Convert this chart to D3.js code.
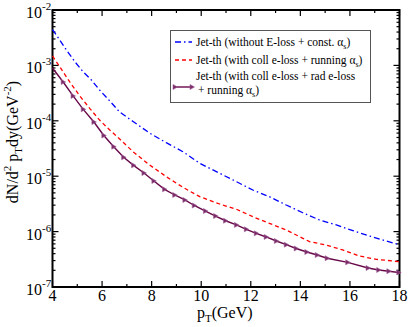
<!DOCTYPE html>
<html>
<head>
<meta charset="utf-8">
<script src="https://cdn.jsdelivr.net/npm/d3@7"></script>
<style>
body{margin:0;background:#fff;}
text{font-family:"Liberation Serif","Times New Roman",serif;fill:#000;}
</style>
</head>
<body>
<svg id="chart" width="409" height="327"></svg>
<script>
// values
let bluePt = [4.0,4.29,4.56,4.9,5.23,5.57,5.9,6.31,6.71,7.25,7.92,8.59,9.26,9.94,10.61,11.42,12.08,12.75,13.43,14.1,14.77,15.45,16.12,16.79,17.46,17.97];
let blueY = [4.44e-3,2.87e-3,1.9e-3,1.17e-3,7.7e-4,5.45e-4,3.6e-4,2.28e-4,1.44e-4,9.7e-5,6.0e-5,4.03e-5,2.77e-5,1.71e-5,1.21e-5,7.96e-6,5.64e-6,4.27e-6,3.02e-6,2.19e-6,1.62e-6,1.32e-6,1.04e-6,8.33e-7,6.77e-7,5.85e-7];
let redPt = [4.0,4.29,4.69,5.1,5.5,5.9,6.31,6.71,7.25,7.92,8.59,9.26,9.94,10.74,11.42,12.08,12.75,13.43,14.1,14.37,15.04,15.71,16.38,17.06,17.73,17.97];
let redY = [1.48e-3,9.5e-4,5.08e-4,2.81e-4,1.68e-4,1.03e-4,6.82e-5,4.69e-5,2.77e-5,1.59e-5,9.8e-6,6.3e-6,4.27e-6,3.15e-6,2.53e-6,1.86e-6,1.41e-6,1.07e-6,7.57e-7,6.58e-7,5.73e-7,4.66e-7,3.63e-7,3.16e-7,2.95e-7,2.86e-7];
let purplePt = [4.0,4.43,4.83,5.24,5.67,6.07,6.47,6.87,7.27,7.69,8.09,8.52,8.93,9.34,9.72,10.17,10.58,10.98,11.42,11.82,12.22,12.62,13.03,13.43,13.83,14.26,14.68,15.08,15.91,16.73,17.16,17.57,17.97];
let purpleY = [8.97e-4,5.01e-4,2.81e-4,1.61e-4,9.5e-5,5.43e-5,3.41e-5,2.19e-5,1.57e-5,1.14e-5,8.2e-6,5.8e-6,4.58e-6,3.72e-6,2.96e-6,2.35e-6,1.91e-6,1.57e-6,1.32e-6,1.1e-6,9.3e-7,8.0e-7,6.77e-7,5.8e-7,4.96e-7,4.28e-7,3.78e-7,3.31e-7,2.79e-7,2.2e-7,2.03e-7,1.93e-7,1.83e-7];
let xTicks = [4,6,8,10,12,14,16,18];
let yExps = [-2,-3,-4,-5,-6,-7];

const svg = d3.select('#chart');
const L=52.5, R=399.5, T=10, B=287;
const x = d3.scaleLinear().domain([4,18]).range([L,R]);
const y = d3.scaleLog().domain([1e-7,1e-2]).range([B,T]);

// minor / major ticks on all four sides
let g = svg.append('g').attr('stroke','#000');
d3.range(4,19,1).forEach(v=>{
    let len = v%2===0 ? 6 : 3;
    g.append('line').attr('x1',x(v)).attr('x2',x(v)).attr('y1',B).attr('y2',B-len).attr('stroke-width',1.2);
    g.append('line').attr('x1',x(v)).attr('x2',x(v)).attr('y1',T).attr('y2',T+len).attr('stroke-width',1.2);
});
for(let e=-7;e<=-2;e++){
    for(let m=1;m<10;m++){
        if(e===-2 && m>1) break;
        let v = m*Math.pow(10,e);
        let len = m===1 ? 6 : 3;
        g.append('line').attr('x1',L).attr('x2',L+len).attr('y1',y(v)).attr('y2',y(v)).attr('stroke-width',1.2);
        g.append('line').attr('x1',R).attr('x2',R-len).attr('y1',y(v)).attr('y2',y(v)).attr('stroke-width',1.2);
    }
}
svg.append('rect').attr('x',L).attr('y',T).attr('width',R-L).attr('height',B-T)
    .attr('fill','none').attr('stroke','#000').attr('stroke-width',2);

// tick labels
svg.selectAll('.xl').data(xTicks).enter().append('text')
    .attr('x',d=>x(d)).attr('y',B+14).attr('text-anchor','middle')
    .attr('font-size',16).text(d=>d);
yExps.forEach(e=>{
    let t = svg.append('text').attr('x',26).attr('y',y(Math.pow(10,e))+8).attr('font-size',16);
    t.append('tspan').text('10');
    t.append('tspan').attr('dy',-8).attr('font-size',11).text('-'+Math.abs(e));
});

// axis titles
let xt = svg.append('text').attr('x',197).attr('y',318).attr('font-size',16);
xt.append('tspan').text('p');
xt.append('tspan').attr('dy',4).attr('font-size',11).text('T');
xt.append('tspan').attr('dy',-4).text('(GeV)');

let yt = svg.append('text').attr('transform','translate(18,142) rotate(-90)')
    .attr('text-anchor','middle').attr('font-size',16);
yt.append('tspan').text('dN/d');
yt.append('tspan').attr('dy',-7).attr('font-size',11).text('2');
yt.append('tspan').attr('dy',7).text(' p');
yt.append('tspan').attr('dy',4).attr('font-size',11).text('T');
yt.append('tspan').attr('dy',-4).text('dy(GeV');
yt.append('tspan').attr('dy',-7).attr('font-size',11).text('-2');
yt.append('tspan').attr('dy',7).text(')');

// curves
const line = d3.line().x(d=>x(d[0])).y(d=>y(d[1]));
const blue = d3.zip(bluePt,blueY), red = d3.zip(redPt,redY), purple = d3.zip(purplePt,purpleY);
svg.append('path').datum(blue).attr('d',line).attr('fill','none')
    .attr('stroke','#0000ff').attr('stroke-width',1.3).attr('stroke-dasharray','6,3,1.5,3');
svg.append('path').datum(red).attr('d',line).attr('fill','none')
    .attr('stroke','#ff0000').attr('stroke-width',1.3).attr('stroke-dasharray','4,3');
svg.append('path').datum(purple).attr('d',line).attr('fill','none')
    .attr('stroke','#670748').attr('stroke-width',1.4);
const tri = 'M-2,-2.5L2.5,0L-2,2.5Z';
svg.selectAll('.mk').data(purple.slice(1)).enter().append('path')
    .attr('d',tri).attr('transform',d=>`translate(${x(d[0])},${y(d[1])})`)
    .attr('fill','#7a2a64').attr('stroke','#a0609a').attr('stroke-width',0.6);

// legend
const lg = svg.append('g');
lg.append('rect').attr('x',170.5).attr('y',30.5).attr('width',200).attr('height',72)
    .attr('fill','#fff').attr('stroke','#555').attr('stroke-width',1);
lg.append('line').attr('x1',175).attr('x2',192).attr('y1',42).attr('y2',42)
    .attr('stroke','#0000ff').attr('stroke-width',1.3).attr('stroke-dasharray','6,3,1.5,3');
lg.append('line').attr('x1',175).attr('x2',192).attr('y1',60).attr('y2',60)
    .attr('stroke','#ff0000').attr('stroke-width',1.3).attr('stroke-dasharray','4,3');
lg.append('line').attr('x1',175).attr('x2',192).attr('y1',87).attr('y2',87)
    .attr('stroke','#670748').attr('stroke-width',1.4);
lg.append('path').attr('d',tri).attr('transform','translate(175,87)').attr('fill','#7a2a64').attr('stroke','#a0609a').attr('stroke-width',0.6);
lg.append('path').attr('d',tri).attr('transform','translate(192,87)').attr('fill','#7a2a64').attr('stroke','#a0609a').attr('stroke-width',0.6);

function alphaLabel(xp, yp, pre){
    let t = lg.append('text').attr('x',xp).attr('y',yp).attr('font-size',11.5);
    t.append('tspan').text(pre);
    t.append('tspan').text('\u03b1');
    t.append('tspan').attr('dy',3).attr('font-size',8).text('s');
    t.append('tspan').attr('dy',-3).text(')');
}
alphaLabel(196,46,'Jet-th (without E-loss + const. ');
alphaLabel(196,64,'Jet-th (with coll e-loss + running ');
lg.append('text').attr('x',196).attr('y',80).attr('font-size',11.5).text('Jet-th (with coll e-loss + rad e-loss');
alphaLabel(198,94,'+ running ');
</script>
</body>
</html>
